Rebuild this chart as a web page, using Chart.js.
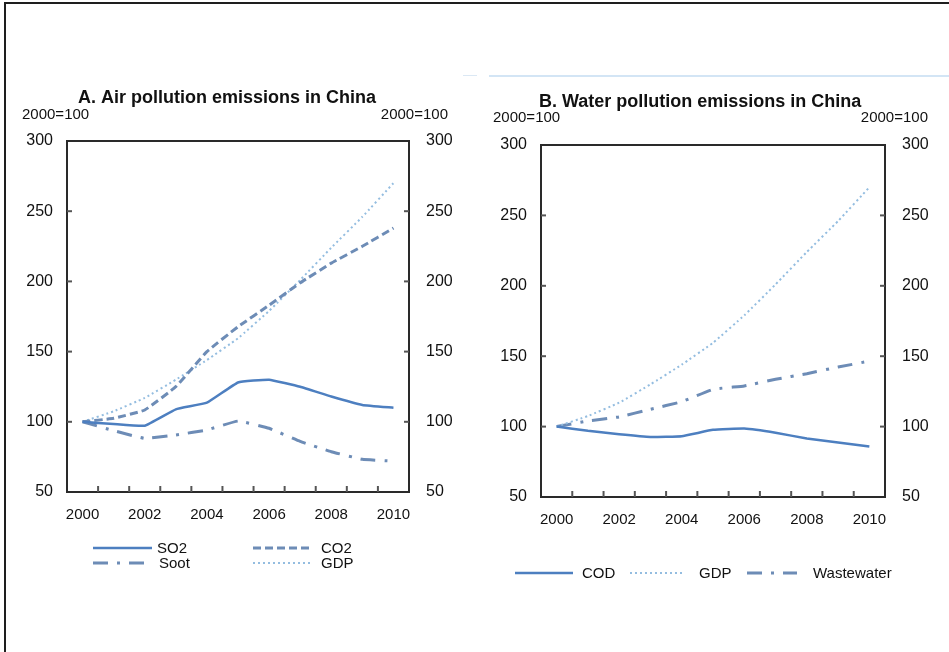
<!DOCTYPE html>
<html>
<head>
<meta charset="utf-8">
<script src="https://cdn.jsdelivr.net/npm/chart.js@4.4.1/dist/chart.umd.min.js"></script>
<style>
html,body{margin:0;padding:0;background:#fff;}
#wrap{position:relative;width:949px;height:652px;overflow:hidden;background:#fff;}
#frameTop{position:absolute;left:4px;top:2px;width:945px;height:2px;background:#1e1e1e;}
#frameLeft{position:absolute;left:4px;top:2px;width:2px;height:650px;background:#1e1e1e;}
#sepA{position:absolute;left:463px;top:75px;width:14px;height:1px;background:#dbe8f4;}
#sepB{position:absolute;left:489px;top:75px;width:460px;height:2px;background:#d3e5f5;}
canvas{position:absolute;top:0;}
#cA{left:0;}
#cB{left:475px;}
</style>
</head>
<body>
<div id="wrap">
  <div id="frameTop"></div>
  <div id="frameLeft"></div>
  <div id="sepA"></div>
  <div id="sepB"></div>
  <canvas id="cA" width="475" height="652"></canvas>
  <canvas id="cB" width="474" height="652"></canvas>
</div>
<script>
// ---- data (index, 2000 = 100) ----
const years = ['2000','2001','2002','2003','2004','2005','2006','2007','2008','2009','2010'];
const so2 = [100, 98.4, 97.2, 108.9, 113.6, 128, 130, 125, 118, 112, 110];
const co2 = [100, 102.5, 108.4, 125, 150, 167.7, 183, 199, 213, 225, 238];
const soot = [100, 93.7, 88.2, 90.6, 94.2, 100.5, 95.4, 86, 78.7, 73.3, 72];
const gdp = [100, 107.5, 117, 130, 144, 159.5, 179, 201, 224, 246, 270];
const cod = [100, 97, 94.6, 92.7, 93.2, 97.7, 98.6, 95.7, 91.5, 88.7, 85.8];
const wastewater = [100, 104, 106.9, 112.3, 117.7, 126.5, 128.9, 133.6, 137.6, 142.3, 146.5];
const yMin = 50, yMax = 300, yStep = 50;
const unitLabel = '2000=100';
const titleA = 'A. Air pollution emissions in China';
const titleB = 'B. Water pollution emissions in China';

const FONT = "'Liberation Sans', Arial, Helvetica, sans-serif";
const C_SOLID = '#4d7fc0';
const C_DASH = '#6d8cb6';
const C_DOT = '#94bde0';

function ds(label, data, color, width, dash) {
  return {label, data, borderColor: color, backgroundColor: color, borderWidth: width,
          borderDash: dash, pointRadius: 0, tension: 0.1, fill: false, borderCapStyle: 'butt'};
}

function decor(cfg) {
  return {
    id: 'decor',
    afterDraw(chart) {
      const ctx = chart.ctx, a = chart.chartArea, sx = chart.scales.x, sy = chart.scales.y;
      const line = (x1, y1, x2, y2) => { ctx.beginPath(); ctx.moveTo(x1, y1); ctx.lineTo(x2, y2); ctx.stroke(); };
      ctx.save();
      // plot frame
      ctx.strokeStyle = '#2a2a2a'; ctx.lineWidth = 2; ctx.setLineDash([]);
      ctx.strokeRect(a.left, a.top, a.right - a.left, a.bottom - a.top);
      // inner tick marks
      ctx.strokeStyle = '#555'; ctx.lineWidth = 2;
      for (let i = 1; i < sx.ticks.length; i++) {
        const px = sx.getPixelForValue(i - 0.5);
        line(px, a.bottom, px, a.bottom - 6);
      }
      sy.ticks.forEach(t => {
        const py = sy.getPixelForValue(t.value);
        if (py > a.top + 2 && py < a.bottom - 2) {
          line(a.left, py, a.left + 5, py);
          line(a.right, py, a.right - 5, py);
        }
      });
      // title and unit labels
      ctx.fillStyle = '#111'; ctx.textBaseline = 'middle';
      ctx.font = 'bold 18px ' + FONT; ctx.textAlign = 'left';
      ctx.fillText(cfg.title, cfg.titleX, cfg.titleY);
      ctx.font = '15px ' + FONT;
      ctx.fillText(unitLabel, cfg.unitLX, cfg.unitY);
      ctx.textAlign = 'right';
      ctx.fillText(unitLabel, cfg.unitRX, cfg.unitY);
      // legend
      ctx.textAlign = 'left';
      cfg.legend.forEach(it => {
        const d = chart.data.datasets[it.ds];
        ctx.strokeStyle = d.borderColor; ctx.lineWidth = d.borderWidth;
        ctx.setLineDash(d.borderDash || []);
        line(it.x1, it.y, it.x2, it.y);
        ctx.setLineDash([]);
        ctx.fillStyle = '#111'; ctx.font = '15px ' + FONT;
        ctx.fillText(d.label, it.tx, it.y + 1);
      });
      ctx.restore();
    }
  };
}

function makeChart(id, datasets, geo, cfg) {
  return new Chart(document.getElementById(id), {
    type: 'line',
    data: {labels: years, datasets},
    options: {
      responsive: false, animation: false, devicePixelRatio: 1,
      layout: {padding: {top: geo.top, left: 0, right: 0, bottom: 0}},
      plugins: {legend: {display: false}, tooltip: {enabled: false}, title: {display: false}},
      scales: {
        x: {
          type: 'category', offset: true,
          grid: {display: false, offset: true}, border: {display: false},
          ticks: {autoSkip: false, maxRotation: 0, padding: 6, color: '#111',
                  font: {family: FONT, size: 15},
                  callback: (v, i) => (i % 2 === 0 ? years[i] : '')},
          afterFit: s => { s.height = geo.xH; }
        },
        y: {
          position: 'left', min: yMin, max: yMax,
          grid: {display: false, drawTicks: false}, border: {display: false},
          ticks: {stepSize: yStep, padding: 14, color: '#111', font: {family: FONT, size: 16}},
          afterFit: s => { s.width = geo.yL; }
        },
        y2: {
          position: 'right', min: yMin, max: yMax, display: true,
          grid: {display: false, drawTicks: false}, border: {display: false},
          ticks: {stepSize: yStep, padding: 17, color: '#111', font: {family: FONT, size: 16}},
          afterFit: s => { s.width = geo.yR; }
        }
      }
    },
    plugins: [decor(cfg)]
  });
}

makeChart('cA', [
  ds('SO2', so2, C_SOLID, 2.5, []),
  ds('CO2', co2, C_DASH, 3, [8, 4]),
  ds('Soot', soot, C_DASH, 3, [15, 9, 3, 9]),
  ds('GDP', gdp, C_DOT, 2, [2, 3])
], {top: 141, xH: 160, yL: 67, yR: 66}, {
  title: titleA, titleX: 78, titleY: 98, unitLX: 22, unitRX: 448, unitY: 115,
  legend: [
    {ds: 0, x1: 93, x2: 152, y: 548, tx: 157},
    {ds: 1, x1: 253, x2: 313, y: 548, tx: 321},
    {ds: 2, x1: 93, x2: 146, y: 563, tx: 159},
    {ds: 3, x1: 253, x2: 313, y: 563, tx: 321}
  ]
});

makeChart('cB', [
  ds('COD', cod, C_SOLID, 2.5, []),
  ds('GDP', gdp, C_DOT, 2, [2, 3]),
  ds('Wastewater', wastewater, C_DASH, 3, [15, 9, 3, 9])
], {top: 145, xH: 155, yL: 66, yR: 64}, {
  title: titleB, titleX: 64, titleY: 102, unitLX: 18, unitRX: 453, unitY: 118,
  legend: [
    {ds: 0, x1: 40, x2: 98, y: 573, tx: 107},
    {ds: 1, x1: 155, x2: 210, y: 573, tx: 224},
    {ds: 2, x1: 272, x2: 322, y: 573, tx: 338}
  ]
});
</script>
</body>
</html>
